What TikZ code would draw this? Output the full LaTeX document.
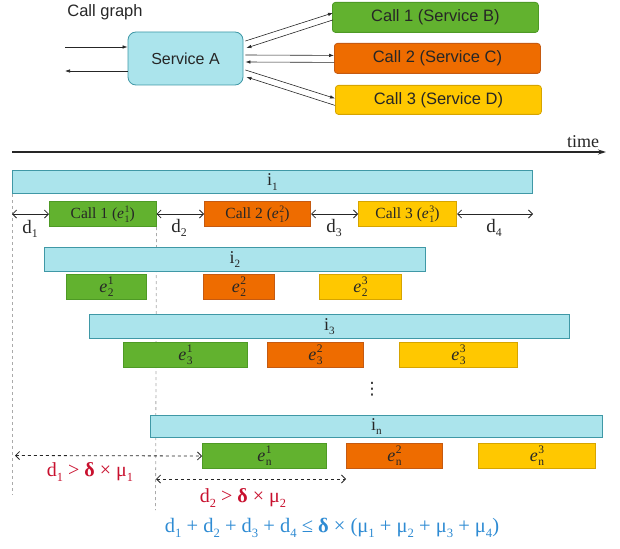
\documentclass[tikz,border=0pt]{standalone}
\usepackage{fontspec}
\setmainfont{Liberation Serif}
\newfontfamily\arialfont{Liberation Sans}
\newfontfamily\symfont{DejaVu Sans}
\usetikzlibrary{arrows.meta,calc,backgrounds}

\definecolor{barfill}{HTML}{ABE4EC}
\definecolor{bardraw}{HTML}{3F98A6}
\definecolor{gfill}{HTML}{62B22F}
\definecolor{gdraw}{HTML}{4E9A25}
\definecolor{ofill}{HTML}{EE6C00}
\definecolor{odraw}{HTML}{C55A11}
\definecolor{yfill}{HTML}{FFC800}
\definecolor{ydraw}{HTML}{D6A400}
\definecolor{redtxt}{HTML}{C8102E}
\definecolor{bluetxt}{HTML}{2E8BD3}
\definecolor{guide}{HTML}{AAAAAA}
\definecolor{ink}{HTML}{262626}

% lowered small index and an execution symbol e with stacked indices
\newcommand\lo[1]{\raisebox{-0.25em}{\scalebox{0.62}{#1}}}
\newcommand\ev[2]{\textit{e}\kern0.04em\rlap{\raisebox{0.42em}{\scalebox{0.64}{#1}}}\raisebox{-0.24em}{\scalebox{0.64}{#2}}}

\begin{document}
\begin{tikzpicture}[x=1pt,y=-1pt,
  svc/.style={draw=bardraw, fill=barfill, rounded corners=8pt, line width=0.8pt,
    font=\arialfont\fontsize{16}{18}\selectfont, text=ink,
    minimum width=115pt, minimum height=53pt, inner sep=0pt},
  callbox/.style={rounded corners=3pt, line width=0.8pt,
    font=\arialfont\fontsize{16.5}{18}\selectfont, text=ink,
    minimum width=206pt, minimum height=30pt, inner sep=0pt, anchor=north west},
  link/.style={-{Latex[length=5pt,width=3.5pt]}, line width=0.6pt, draw=ink},
  axis/.style={-{Stealth[length=8pt,width=5pt]}, line width=1.1pt, draw=ink},
  ibar/.style={draw=bardraw, fill=barfill, line width=1pt, anchor=north west,
    inner sep=0pt, text=ink, font=\fontsize{18}{20}\selectfont},
  ebox/.style={line width=1pt, anchor=north west, inner sep=0pt, text=ink,
    font=\fontsize{18}{20}\selectfont},
  gbox/.style={ebox, fill=gfill, draw=gdraw},
  obox/.style={ebox, fill=ofill, draw=odraw},
  ybox/.style={ebox, fill=yfill, draw=ydraw},
  gap/.style={{Straight Barb[length=4pt,width=8pt]}-{Straight Barb[length=4pt,width=8pt]},
    line width=0.8pt, draw=ink},
  dgap/.style={gap, dashed},
  guideline/.style={draw=guide, dashed, line width=0.8pt},
  dlab/.style={font=\fontsize{19}{20}\selectfont, text=ink, inner sep=0pt},
  cond/.style={font=\fontsize{20}{22}\selectfont, text=redtxt, inner sep=0pt},
  total/.style={font=\fontsize{20.5}{22}\selectfont, text=bluetxt, inner sep=0pt}]
\useasboundingbox (0,0) rectangle (620,548);

% ---- call graph ----
\node[font=\arialfont\fontsize{16.5}{18}\selectfont, text=ink] (title) at (105,12) {Call graph};
\node[svc] (A) at (185.5,58.5) {Service A};
\node[callbox, fill=gfill, draw=gdraw] (c1) at (332,2) {Call 1 (Service B)};
\node[callbox, fill=ofill, draw=odraw] (c2) at (334,43) {Call 2 (Service C)};
\node[callbox, fill=yfill, draw=ydraw, minimum height=29pt] (c3) at (335,85) {Call 3 (Service D)};
\coordinate (inA) at (65,47);
\coordinate (outA) at (65,71);

\draw[link] (inA) -- ($(A.west)+(0,-11.5)$);
\draw[link] ($(A.west)+(0,12.5)$) -- (outA);
\draw[link] ($(A.east)+(2,-17.5)$) -- ($(c1.west)+(1,-4.5)$);
\draw[link] ($(c1.west)+(1,2.5)$) -- ($(A.east)+(3,-10.5)$);
\draw[link] ($(A.east)+(2,-3.5)$) -- ($(c2.west)+(0,-3)$);
\draw[link] ($(c2.west)+(0,4)$) -- ($(A.east)+(2,3.5)$);
\draw[link] ($(A.east)+(2,11.5)$) -- ($(c3.west)+(0,-1.5)$);
\draw[link] ($(c3.west)+(0,5.5)$) -- ($(A.east)+(3,18.5)$);

% ---- time axis ----
\coordinate (t0) at (12,152);
\coordinate (t1) at (606,152);
\draw[axis] (t0) -- (t1);
\node[font=\fontsize{18}{20}\selectfont, text=ink] (time) at (583,142) {time};

% ---- invocation 1 ----
\node[ibar, minimum width=520pt, minimum height=23pt] (i1) at (12,170) {i\lo{1}};
\node[gbox, minimum width=106.5pt, minimum height=25pt, font=\fontsize{15.5}{18}\selectfont] (c11) at (49,201) {Call 1 (\ev{1}{1})};
\node[obox, minimum width=106pt, minimum height=25pt, font=\fontsize{15.5}{18}\selectfont] (c12) at (204,201) {Call 2 (\ev{2}{1})};
\node[ybox, minimum width=98pt, minimum height=25pt, font=\fontsize{15.5}{18}\selectfont] (c13) at (358,201) {Call 3 (\ev{3}{1})};

\draw[gap] (i1.west |- c11.west) -- (c11.west);
\draw[gap] (c11.east) -- (c12.west);
\draw[gap] (c12.east) -- (c13.west);
\draw[gap] (c13.east) -- (i1.east |- c13.east);

\node[dlab] (d1) at (30,229) {d\lo{1}};
\node[dlab] (d2) at (179,228) {d\lo{2}};
\node[dlab] (d3) at (334,228) {d\lo{3}};
\node[dlab] (d4) at (494,228) {d\lo{4}};

% ---- invocation 2 ----
\node[ibar, minimum width=381pt, minimum height=24pt] (i2) at (44,247) {i\lo{2}};
\node[gbox, minimum width=80pt, minimum height=25pt] (e21) at (66,274) {\ev{1}{2}};
\node[obox, minimum width=71pt, minimum height=25pt] (e22) at (203,274) {\ev{2}{2}};
\node[ybox, minimum width=82pt, minimum height=25pt] (e23) at (319,274) {\ev{3}{2}};

% ---- invocation 3 ----
\node[ibar, minimum width=480pt, minimum height=24pt] (i3) at (89,314) {i\lo{3}};
\node[gbox, minimum width=124pt, minimum height=25pt] (e31) at (123,342) {\ev{1}{3}};
\node[obox, minimum width=96pt, minimum height=25pt] (e32) at (267,342) {\ev{2}{3}};
\node[ybox, minimum width=118pt, minimum height=25pt] (e33) at (399,342) {\ev{3}{3}};

\node[font=\symfont\fontsize{17}{20}\selectfont, text=ink, inner sep=0pt] (dots) at (372,389) {⋮};

% ---- invocation n ----
\node[ibar, minimum width=452pt, minimum height=22pt] (in) at (150,415) {i\lo{n}};
\node[gbox, minimum width=124pt, minimum height=25pt] (en1) at (202,443) {\ev{1}{n}};
\node[obox, minimum width=96pt, minimum height=25pt] (en2) at (346,443) {\ev{2}{n}};
\node[ybox, minimum width=117pt, minimum height=25pt] (en3) at (478,443) {\ev{3}{n}};

% ---- gap thresholds ----
\coordinate (ga) at (15,455.5);
\coordinate (gb0) at (156,479);
\coordinate (gb1) at (346,479);
\draw[dgap] (ga) -- (en1.west);
\draw[dgap] (gb0) -- (gb1);

\node[cond] (r1) at (90,472) {d\lo{1} > \textbf{δ} × μ\lo{1}};
\node[cond] (r2) at (243,498) {d\lo{2} > \textbf{δ} × μ\lo{2}};
\node[total] (sum) at (332,528) {d\lo{1} + d\lo{2} + d\lo{3} + d\lo{4} ≤ \textbf{δ} × (μ\lo{1} + μ\lo{2} + μ\lo{3} + μ\lo{4})};

% ---- start guides behind the bars ----
\coordinate (g1) at (12,495);
\coordinate (g2) at (155.5,510);
\begin{scope}[on background layer]
  \draw[guideline] (i1.south west) -- (g1);
  \draw[guideline] (c11.south east) -- (g2);
\end{scope}
\end{tikzpicture}
\end{document}
